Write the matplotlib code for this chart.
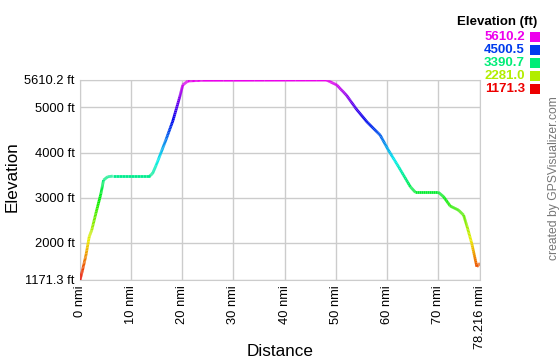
import numpy as np
import matplotlib.pyplot as plt
import colorsys
from matplotlib.collections import LineCollection

plt.rcParams['font.family'] = ['Liberation Sans', 'DejaVu Sans']

# distance (nmi) and elevation (ft) read from the profile
dist = [0.0, 0.5, 1.17, 1.8, 2.3, 3.1, 4.1, 4.6, 5.4, 6.4, 13.6, 14.2, 14.9, 15.9,
        16.9, 18.2, 19.5, 20.1, 21.1, 24.0, 48.2, 50.2, 52.1, 54.1, 56.1, 58.7,
        60.3, 62.3, 64.6, 65.6, 70.1, 71.1, 72.4, 74.0, 75.0, 75.7, 76.6, 77.6,
        77.9, 78.216]
elev = [1171.3, 1393, 1725, 2131, 2280, 2650, 3093, 3388, 3462, 3477, 3477, 3537,
        3721, 4016, 4312, 4718, 5235, 5500, 5588, 5605, 5610.2, 5500, 5273, 4955,
        4681, 4386, 4054, 3683, 3240, 3116, 3116, 3018, 2812, 2723, 2612, 2353,
        1985, 1466, 1504, 1541]

y_ticks = [1171.3, 2000, 3000, 4000, 5000, 5610.2]
y_labels = ['1171.3 ft', '2000 ft', '3000 ft', '4000 ft', '5000 ft', '5610.2 ft']
x_ticks = [0, 10, 20, 30, 40, 50, 60, 70, 78.216]
x_labels = ['0 nmi', '10 nmi', '20 nmi', '30 nmi', '40 nmi', '50 nmi', '60 nmi',
            '70 nmi', '78.216 nmi']
legend_vals = ['5610.2', '4500.5', '3390.7', '2281.0', '1171.3']

emin, emax = 1171.3, 5610.2


def elev_color(e):
    h = 300.0 * (e - emin) / (emax - emin) / 360.0
    return colorsys.hsv_to_rgb(h, 1.0, 0.93)


fig = plt.figure(figsize=(5.6, 3.6), dpi=100, facecolor='white')
ax = fig.add_axes([80 / 560, 1 - 280 / 360, 400 / 560, 200 / 360])

# densify so the colour gradient is smooth along the line
xs, ys = [], []
for i in range(len(dist) - 1):
    n = 12
    for k in range(n):
        t = k / n
        xs.append(dist[i] + t * (dist[i + 1] - dist[i]))
        ys.append(elev[i] + t * (elev[i + 1] - elev[i]))
xs.append(dist[-1])
ys.append(elev[-1])
xs = np.array(xs)
ys = np.array(ys)
pts = np.column_stack([xs, ys]).reshape(-1, 1, 2)
segs = np.concatenate([pts[:-1], pts[1:]], axis=1)
cols = [elev_color((ys[i] + ys[i + 1]) / 2) for i in range(len(ys) - 1)]
lc = LineCollection(segs, colors=cols, linewidths=2.0, capstyle='butt', zorder=3)
ax.add_collection(lc)

ax.set_xlim(0, 78.216)
ax.set_ylim(emin, emax)
ax.set_xticks(x_ticks)
ax.set_xticklabels(x_labels, rotation=90, fontsize=9.3)
ax.set_yticks(y_ticks)
ax.set_yticklabels(y_labels, fontsize=9.3)
ax.tick_params(length=0, pad=4)
ax.grid(color='#cccccc', linewidth=1)
for s in ax.spines.values():
    s.set_color('#cccccc')

# axis titles
fig.text(280 / 560, 1 - 351 / 360, 'Distance', ha='center', va='center', fontsize=12.3)
fig.text(12 / 560, 1 - 177 / 360, 'Elevation', ha='center', va='center',
         rotation=90, fontsize=12.3)

# legend in the top right corner
fig.text(537 / 560, 1 - 22 / 360, 'Elevation (ft)', ha='right', va='center',
         fontsize=9.5, fontweight='bold')
for i, v in enumerate(legend_vals):
    yy = 1 - (37 + i * 13) / 360
    c = elev_color(float(v))
    fig.text(525 / 560, yy, v, ha='right', va='center', fontsize=9.5,
             fontweight='bold', color=c)
    fig.patches.append(plt.Rectangle((530 / 560, yy - 5 / 360), 10 / 560, 10 / 360,
                                     transform=fig.transFigure, facecolor=c,
                                     edgecolor='none'))

fig.text(554 / 560, 1 - 178 / 360, 'created by GPSVisualizer.com', rotation=90,
         ha='center', va='center', fontsize=8.7, color='#777777')

plt.savefig('out.png', dpi=100)
